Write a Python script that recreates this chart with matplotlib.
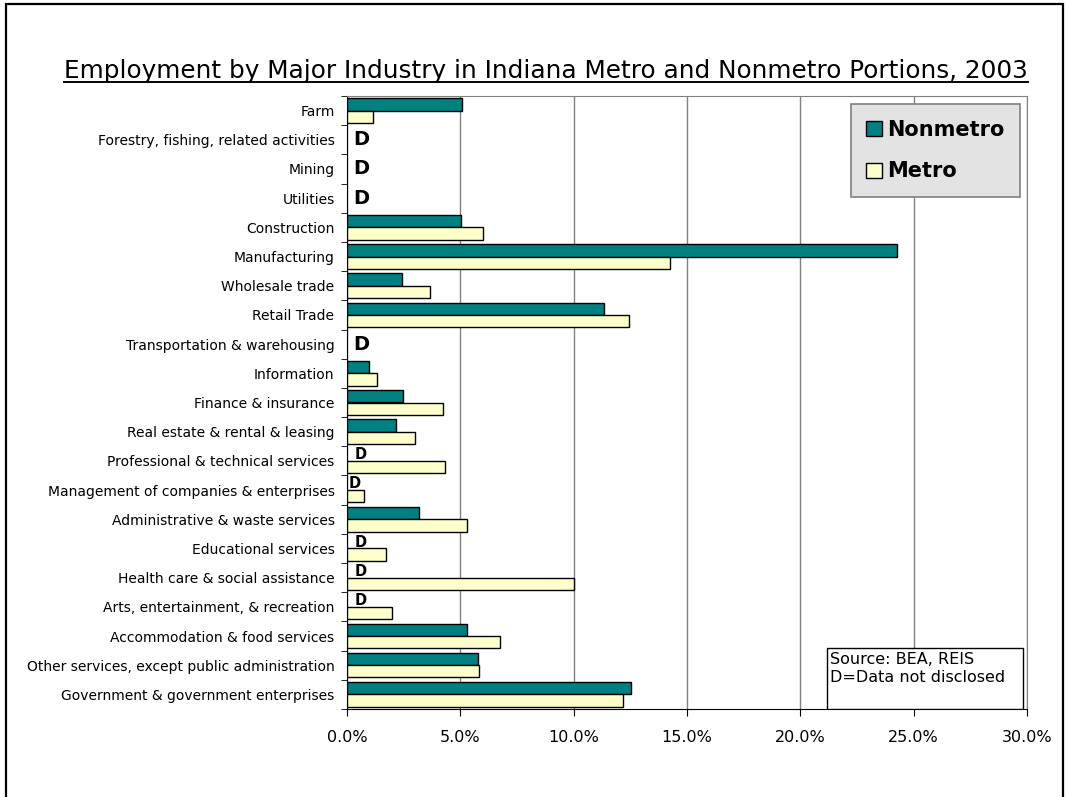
import numpy as np
import matplotlib
matplotlib.use("Agg")
import matplotlib.pyplot as plt
from matplotlib.patches import Patch, Rectangle
from matplotlib.lines import Line2D

plt.rcParams['font.family'] = ['DejaVu Sans']

# data (percent of employment), nan = not disclosed
industries = [
    "Farm",
    "Forestry, fishing, related activities",
    "Mining",
    "Utilities",
    "Construction",
    "Manufacturing",
    "Wholesale trade",
    "Retail Trade",
    "Transportation & warehousing",
    "Information",
    "Finance & insurance",
    "Real estate & rental & leasing",
    "Professional & technical services",
    "Management of companies & enterprises",
    "Administrative & waste services",
    "Educational services",
    "Health care & social assistance",
    "Arts, entertainment, & recreation",
    "Accommodation & food services",
    "Other services, except public administration",
    "Government & government enterprises",
]
nonmetro = [5.09, np.nan, np.nan, np.nan, 5.03, 24.26, 2.41, 11.35, np.nan, 0.96,
            2.49, 2.15, np.nan, np.nan, 3.16, np.nan, np.nan, np.nan, 5.28, 5.76, 12.54]
metro = [1.16, np.nan, np.nan, np.nan, 5.98, 14.25, 3.66, 12.45, np.nan, 1.34,
         4.22, 3.01, 4.32, 0.76, 5.31, 1.74, 10.0, 1.99, 6.76, 5.81, 12.19]
xticks = [0, 5, 10, 15, 20, 25, 30]

W, H = 1066, 797
fig = plt.figure(figsize=(W / 100, H / 100), dpi=100)
fig.patch.set_facecolor('white')

# plot area in pixel coords
left, right, top, bottom = 347, 1027, 96, 709
ax = fig.add_axes([left / W, 1 - bottom / H, (right - left) / W, (bottom - top) / H])

y = np.arange(len(industries))
bh = 0.42
ax.barh(y - bh / 2, nonmetro, height=bh, color='#008080', edgecolor='black', linewidth=1, zorder=3)
ax.barh(y + bh / 2, metro, height=bh, color='#FFFFCC', edgecolor='black', linewidth=1, zorder=3)

# "D" markers for undisclosed data
for i in range(len(industries)):
    if np.isnan(nonmetro[i]) and np.isnan(metro[i]):
        ax.text(0.28, i, "D", fontsize=14, fontweight='bold', va='center', ha='left', zorder=4)
    elif np.isnan(nonmetro[i]):
        xoff = 0.05 if metro[i] < 1 else 0.35
        ax.text(xoff, i - bh / 2, "D", fontsize=10.5, fontweight='bold', va='center', ha='left', zorder=4)

ax.set_xlim(0, 30)
ax.set_ylim(len(industries) - 0.5, -0.5)
ax.set_xticks(xticks)
ax.set_xticklabels([f"{v:.1f}%" for v in xticks], fontsize=11.5)
ax.tick_params(axis='x', direction='out', length=5, pad=10, color='black')
ax.set_yticks(y)
ax.set_yticklabels(industries, fontsize=10)
ax.tick_params(axis='y', which='major', length=0, pad=9)
ax.set_yticks(np.arange(len(industries) + 1) - 0.5, minor=True)
ax.tick_params(axis='y', which='minor', direction='out', length=4, color='black')

ax.grid(axis='x', color='#808080', linewidth=1, zorder=0)
ax.set_axisbelow(True)
ax.spines['left'].set_color('black')
ax.spines['bottom'].set_color('black')
ax.spines['top'].set_color('#808080')
ax.spines['right'].set_color('#808080')

handles = [Patch(facecolor='#008080', edgecolor='black', label='Nonmetro'),
           Patch(facecolor='#FFFFCC', edgecolor='black', label='Metro')]
leg = ax.legend(handles=handles, loc='upper right', bbox_to_anchor=(0.99, 0.987),
                borderaxespad=0, fancybox=False, framealpha=1, facecolor='#e3e3e3',
                edgecolor='#808080', prop={'size': 15, 'weight': 'bold'},
                handlelength=0.75, handleheight=0.75, handletextpad=0.25,
                labelspacing=1.05, borderpad=0.75)
leg.get_frame().set_linewidth(1.2)
leg.set_zorder(10)

# source box
sx0 = (827 - left) / (right - left)
sy1 = (bottom - 648) / (bottom - top)
ax.add_patch(Rectangle((sx0, 0), (1023 - 827) / (right - left), sy1, transform=ax.transAxes,
                       facecolor='white', edgecolor='black', linewidth=1, zorder=9))
ax.text(sx0 + 0.005, sy1 - 0.006, "Source: BEA, REIS\nD=Data not disclosed", transform=ax.transAxes,
        fontsize=11.5, va='top', ha='left', zorder=10, linespacing=1.3)

# title with underline
title = fig.text(546 / W, 1 - 78 / H, "Employment by Major Industry in Indiana Metro and Nonmetro Portions, 2003",
                 fontsize=17.8, ha='center', va='baseline')
fig.canvas.draw()
bb = title.get_window_extent()
uy = H - 82
fig.add_artist(Line2D([bb.x0 / W, bb.x1 / W], [uy / H, uy / H], color='black', linewidth=1.4))

# outer border
fig.add_artist(Rectangle((6 / W, -0.05), (1063 - 6) / W, (H - 4) / H + 0.05, transform=fig.transFigure,
                         fill=False, edgecolor='black', linewidth=1.6, clip_on=False))

fig.savefig("out.png", dpi=100)
